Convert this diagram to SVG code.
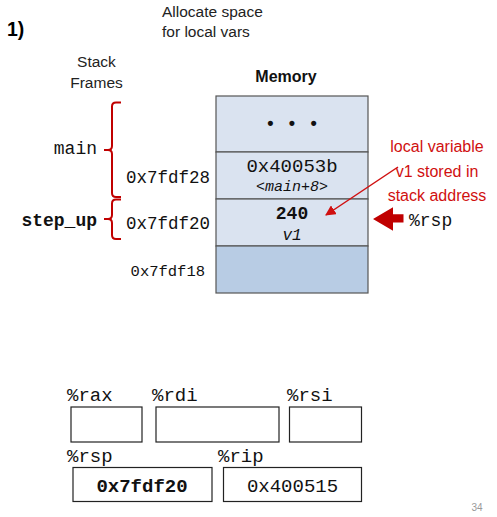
<svg xmlns="http://www.w3.org/2000/svg" width="497" height="517" viewBox="0 0 497 517">
  <style>
    .sans { font-family: "Liberation Sans", Arial, sans-serif; }
    .mono { font-family: "Liberation Mono", "Courier New", monospace; fill: #111; }
    .cell { fill: #dae3f0; stroke: #555; stroke-width: 1.2; }
    .cell-low { fill: #b8cce4; stroke: #555; stroke-width: 1.2; }
    .reg { fill: #fff; stroke: #222; stroke-width: 1.2; }
    .brace { fill: none; stroke: #c00000; stroke-width: 2; }
    .note { fill: #d01010; font-size: 16px; }
  </style>
  <defs>
    <marker id="head" viewBox="0 0 10 10" refX="9" refY="5" markerWidth="7" markerHeight="7" orient="auto">
      <path d="M0,0 L10,5 L0,10 z" fill="#d01010"/>
    </marker>
  </defs>

  <!-- titles -->
  <text x="7" y="36" class="sans" font-size="19.5" font-weight="bold">1)</text>
  <text x="162" y="17" class="sans" font-size="15.5" fill="#222">Allocate space</text>
  <text x="162" y="37" class="sans" font-size="15.5" fill="#222">for local vars</text>
  <text x="96.5" y="67" class="sans" font-size="15.5" text-anchor="middle" fill="#222">Stack</text>
  <text x="96.5" y="88" class="sans" font-size="15.5" text-anchor="middle" fill="#222">Frames</text>
  <text x="286" y="82" class="sans" font-size="16" font-weight="bold" text-anchor="middle" fill="#111">Memory</text>

  <!-- memory stack -->
  <g id="mem-dots">
    <rect x="216" y="96" width="152" height="56" class="cell"/>
    <text x="292" y="130" class="mono" font-size="18" font-weight="bold" text-anchor="middle">• • •</text>
  </g>
  <g id="mem-0x7fdf28">
    <rect x="216" y="152" width="152" height="47" class="cell"/>
    <text x="292" y="172" class="mono" font-size="19" text-anchor="middle">0x40053b</text>
    <text x="292" y="191" class="mono" font-size="15" font-style="italic" text-anchor="middle">&lt;main+8&gt;</text>
  </g>
  <g id="mem-0x7fdf20">
    <rect x="216" y="199" width="152" height="47" class="cell"/>
    <text x="292" y="219" class="mono" font-size="18" font-weight="bold" text-anchor="middle">240</text>
    <text x="292" y="240" class="mono" font-size="16" font-style="italic" text-anchor="middle">v1</text>
  </g>
  <g id="mem-0x7fdf18">
    <rect x="216" y="246" width="152" height="47" class="cell-low"/>
  </g>

  <!-- addresses -->
  <text x="210" y="183" class="mono" font-size="17.5" text-anchor="end">0x7fdf28</text>
  <text x="210" y="229" class="mono" font-size="17.5" text-anchor="end">0x7fdf20</text>
  <text x="205" y="276" class="mono" font-size="15.5" text-anchor="end">0x7fdf18</text>

  <!-- frame labels and braces -->
  <g id="frame-main">
    <text x="97" y="154" class="mono" font-size="18" text-anchor="end">main</text>
    <path class="brace" d="M121,102.5 L116,102.5 Q112,102.5 112,106.5 L112,146 Q112,150 108,150 L104,150 L108,150 Q112,150 112,154 L112,193 Q112,197 116,197 L121,197"/>
  </g>
  <g id="frame-step_up">
    <text x="97" y="226" class="mono" font-size="18" font-weight="bold" text-anchor="end">step_up</text>
    <path class="brace" d="M121,199.5 L116,199.5 Q112,199.5 112,203.5 L112,215 Q112,219 108,219 L104,219 L108,219 Q112,219 112,223 L112,235 Q112,239 116,239 L121,239"/>
  </g>

  <!-- annotation -->
  <g id="note">
    <text x="437" y="152" class="sans note" text-anchor="middle">local variable</text>
    <text x="437" y="177" class="sans note" text-anchor="middle">v1 stored in</text>
    <text x="437" y="201" class="sans note" text-anchor="middle">stack address</text>
  </g>

  <!-- connectors -->
  <g id="connectors">
    <line x1="398" y1="167" x2="326" y2="215" stroke="#d01010" stroke-width="1.5" marker-end="url(#head)"/>
    <polygon points="373,219 393,207.3 393,214.3 403.5,214.3 403.5,222.5 393,222.5 393,230.7" fill="#c00000"/>
  </g>
  <text x="409" y="226" class="mono" font-size="18">%rsp</text>

  <!-- registers -->
  <g id="reg-rax">
    <text x="67" y="401" class="mono" font-size="19">%rax</text>
    <rect x="71" y="407" width="71" height="35" class="reg"/>
  </g>
  <g id="reg-rdi">
    <text x="152" y="401" class="mono" font-size="19">%rdi</text>
    <rect x="156" y="407" width="123" height="35" class="reg"/>
  </g>
  <g id="reg-rsi">
    <text x="287" y="401" class="mono" font-size="19">%rsi</text>
    <rect x="289.5" y="407" width="72" height="35" class="reg"/>
  </g>
  <g id="reg-rsp">
    <text x="67" y="462" class="mono" font-size="19">%rsp</text>
    <rect x="73" y="467.5" width="139" height="34" class="reg"/>
    <text x="142" y="492" class="mono" font-size="19" font-weight="bold" text-anchor="middle">0x7fdf20</text>
  </g>
  <g id="reg-rip">
    <text x="218" y="462" class="mono" font-size="19">%rip</text>
    <rect x="223.5" y="467.5" width="138" height="34" class="reg"/>
    <text x="292.5" y="492" class="mono" font-size="19" text-anchor="middle">0x400515</text>
  </g>

  <text x="477" y="511" class="sans" font-size="10" fill="#999" text-anchor="middle">34</text>
</svg>
